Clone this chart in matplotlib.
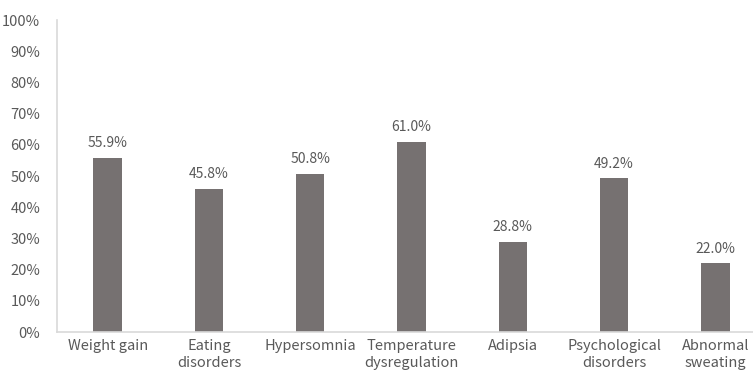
import matplotlib
matplotlib.use("Agg")
import matplotlib.pyplot as plt
from matplotlib.ticker import PercentFormatter

categories = ["Weight gain", "Eating\ndisorders", "Hypersomnia", "Temperature\ndysregulation",
              "Adipsia", "Psychological\ndisorders", "Abnormal\nsweating"]
values = [55.9, 45.8, 50.8, 61.0, 28.8, 49.2, 22.0]
yticks = list(range(0, 101, 10))

plt.rcParams['font.family'] = ['Noto Sans CJK SC', 'DejaVu Sans']
text_color = "#595959"
bar_color = "#767171"
axis_color = "#d9d9d9"

fig = plt.figure(figsize=(7.53, 3.74), dpi=100)
left = 57 / 753
bottom = (374 - 332) / 374
width = 709 / 753
height = 312 / 374
ax = fig.add_axes([left, bottom, width, height])

x = range(len(categories))
bars = ax.bar(x, values, width=0.28, color=bar_color, zorder=2)
for xi, v in zip(x, values):
    ax.text(xi, v + 2.5, f"{v:.1f}%", ha="center", va="bottom",
            fontsize=10, color=text_color)

ax.set_xlim(-0.5, len(categories) - 0.5)
ax.set_ylim(0, 100)
ax.set_yticks(yticks)
ax.yaxis.set_major_formatter(PercentFormatter(decimals=0))
ax.set_xticks(list(x))
ax.set_xticklabels(categories, fontsize=10.5, color=text_color, linespacing=1.3)
ax.tick_params(axis="y", labelsize=10.5, colors=text_color, length=0, pad=12)
ax.tick_params(axis="x", length=0, pad=5)

for s in ["top", "right"]:
    ax.spines[s].set_visible(False)
for s in ["left", "bottom"]:
    ax.spines[s].set_color(axis_color)
    ax.spines[s].set_linewidth(1.2)

fig.savefig("out.png", dpi=100)
